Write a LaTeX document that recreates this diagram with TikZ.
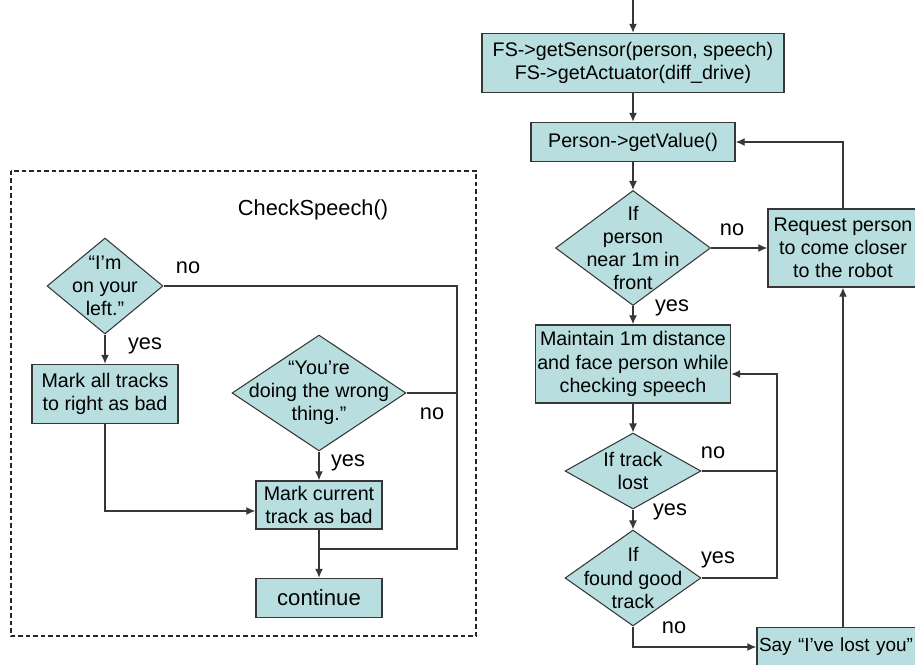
\documentclass[tikz,border=0pt]{standalone}
\usepackage{fontspec}
\setmainfont{Liberation Sans}
\usetikzlibrary{shapes.geometric,arrows.meta}
\definecolor{boxfill}{RGB}{184,222,224}
\definecolor{edge}{RGB}{55,55,55}
\begin{document}
\begin{tikzpicture}[
      x=0.02cm, y=-0.02cm,
      every node/.style={font=\fontsize{11.2}{13.2}\selectfont},
      stepbox/.style={rectangle, draw=edge, fill=boxfill, line width=0.8pt, align=center, inner sep=0pt},
      decision/.style={diamond, draw=edge, fill=boxfill, line width=0.6pt, inner sep=0pt},
      inside/.style={label={[align=center, font=\fontsize{11.2}{13.2}\selectfont]center:#1}},
      lbl/.style={font=\fontsize{12.4}{14}\selectfont, inner sep=0pt},
      line/.style={draw=edge, line width=0.75pt},
      flow/.style={line, -{Latex[length=1.8mm, width=1.6mm]}},
      frame/.style={draw=black!85, line width=0.6pt, dash pattern=on 0.09cm off 0.06cm}
  ]
    \useasboundingbox (0,0) rectangle (915,665);
    \clip (0,0) rectangle (915,665);

    % CheckSpeech() panel
    \draw[frame] (11,171) rectangle (476,636);
    \node[lbl] (title) at (313,210) {CheckSpeech()};
    \node[decision, minimum width=2.32cm, minimum height=1.92cm, inside={“I’m\\on your\\left.”}] (left) at (105,286) {};
    \node[stepbox, minimum width=2.92cm, minimum height=1.18cm] (markall) at (105,394) {Mark all tracks\\to right as bad};
    \node[decision, minimum width=3.48cm, minimum height=2.32cm, inside={“You’re\\doing the wrong\\thing.”}] (wrong) at (319,393) {};
    \node[stepbox, minimum width=2.52cm, minimum height=0.96cm] (markcur) at (319,505) {Mark current\\track as bad};
    \node[stepbox, minimum width=2.52cm, minimum height=0.78cm, font=\fontsize{12.6}{14}\selectfont] (cont) at (319,598) {continue};
    \coordinate (rail) at (457,549);
    \coordinate (merge) at (319,549);

    \node[lbl] (leftno) at (188,268) {no};
    \node[lbl] (leftyes) at (145,346) {yes};
    \node[lbl] (wrongno) at (432,414) {no};
    \node[lbl] (wrongyes) at (348,463) {yes};

    \draw[flow] (left) -- (markall);
    \draw[line] (left.east) -| (rail) -- (merge);
    \draw[line] (wrong.east) -- (wrong.east -| rail);
    \draw[flow] (wrong) -- (markcur);
    \draw[flow] (markall.south) |- ([yshift=-0.12cm]markcur.west);
    \draw[flow] (markcur) -- (cont);

    % main loop
    \coordinate (start) at (633,0);
    \node[stepbox, minimum width=6.04cm, minimum height=1.18cm] (fs) at (633,63) {FS->getSensor(person, speech)\\FS->getActuator(diff\_drive)};
    \node[stepbox, minimum width=4.08cm, minimum height=0.78cm] (person) at (633,142) {Person->getValue()};
    \node[decision, minimum width=3.1cm, minimum height=2.3cm, inside={If\\person\\near 1m in\\front}] (near) at (633,248) {};
    \node[stepbox, minimum width=3.0cm, minimum height=1.56cm] (request) at (843,248) {Request person\\to come closer\\to the robot};
    \node[stepbox, minimum width=3.44cm, minimum height=1.56cm, minimum width=3.9cm] (maintain) at (633,364) {Maintain 1m distance\\and face person while\\checking speech};
    \node[decision, minimum width=2.72cm, minimum height=1.52cm, inside={If track\\lost}] (lost) at (633,471) {};
    \node[decision, minimum width=2.72cm, minimum height=1.92cm, inside={If\\found good\\track}] (found) at (633,578) {};
    \node[stepbox, minimum width=3.44cm, minimum height=0.78cm, text width=3.36cm, align=left, font=\fontsize{10.8}{13}\selectfont] (say) at (843,647) {Say “I’ve lost you”};
    \coordinate (back) at (777,374);

    \node[lbl] (nearno) at (732,230) {no};
    \node[lbl] (nearyes) at (672,308) {yes};
    \node[lbl] (lostno) at (713,453) {no};
    \node[lbl] (lostyes) at (670,512) {yes};
    \node[lbl] (foundyes) at (718,560) {yes};
    \node[lbl] (foundno) at (674,628) {no};

    \draw[flow] (start) -- (fs);
    \draw[flow] (fs) -- (person);
    \draw[flow] (person) -- (near);
    \draw[flow] (near.east) -- (request.west);
    \draw[flow] (request.north) |- (person.east);
    \draw[flow] (near) -- (maintain);
    \draw[flow] (maintain) -- (lost);
    \draw[flow] (lost) -- (found);
    \draw[flow] (lost.east) -| (back) -- (back -| maintain.east);
    \draw[line] (found.east) -| (back);
    \draw[flow] (found.south) |- (say.west);
    \draw[flow] (say.north) -- (request.south);
  \end{tikzpicture}
\end{document}
